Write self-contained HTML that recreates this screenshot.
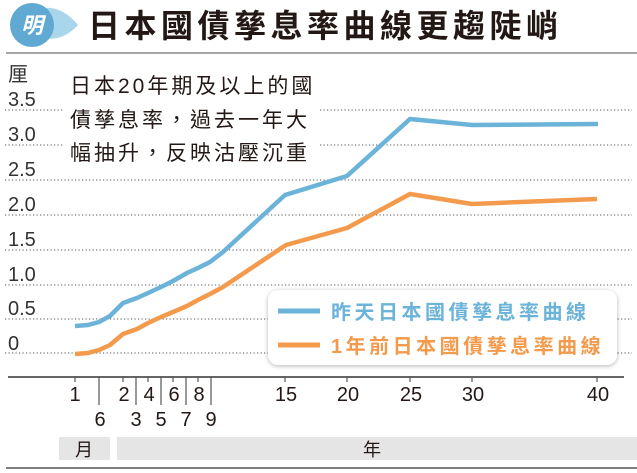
<!DOCTYPE html>
<html><head><meta charset="utf-8"><style>
body{margin:0;background:#fff}
svg{display:block;font-family:"Liberation Sans","Noto Sans CJK TC",sans-serif}
</style></head><body>
<svg width="637" height="473" viewBox="0 0 637 473">
<defs><filter id="sh" x="-10%" y="-20%" width="120%" height="150%"><feDropShadow dx="0" dy="1" stdDeviation="2" flood-color="#000" flood-opacity="0.3"/></filter></defs>
<path d="M44 8 Q62 6 78 25 Q62 42 44 38 Z" fill="#a9d6ea"/>
<circle cx="32" cy="25" r="22" fill="#5fa9d2"/>
<text x="32" y="33" font-size="22" font-weight="bold" fill="#fff" text-anchor="middle" font-style="italic">明</text>
<text x="88" y="37" font-size="32" font-weight="bold" fill="#231815" letter-spacing="4.5">日本國債孳息率曲線更趨陡峭</text>
<line x1="6" y1="53" x2="637" y2="53" stroke="#888" stroke-width="1.5"/>
<g stroke="#555" stroke-width="1" stroke-dasharray="1.2,2.3">
<line x1="5" y1="110" x2="632" y2="110"/><line x1="5" y1="145" x2="632" y2="145"/>
<line x1="5" y1="180" x2="632" y2="180"/><line x1="5" y1="215" x2="632" y2="215"/>
<line x1="5" y1="250" x2="632" y2="250"/><line x1="5" y1="285" x2="632" y2="285"/>
<line x1="5" y1="319" x2="632" y2="319"/><line x1="5" y1="353" x2="632" y2="353"/>
</g>
<rect x="64" y="64" width="254" height="104" fill="#fff"/>
<g font-size="20" fill="#333">
<text x="8" y="81">厘</text>
<text x="8" y="106">3.5</text><text x="8" y="141">3.0</text><text x="8" y="176">2.5</text>
<text x="8" y="211">2.0</text><text x="8" y="246">1.5</text><text x="8" y="281">1.0</text>
<text x="8" y="315">0.5</text><text x="8" y="350">0</text>
</g>
<g font-size="21" fill="#231815" letter-spacing="3">
<text x="70" y="93">日本20年期及以上的國</text>
<text x="70" y="127">債孳息率，過去一年大</text>
<text x="70" y="160">幅抽升，反映沽壓沉重</text>
</g>
<polyline fill="none" stroke="#6bb3d8" stroke-width="4.5" stroke-linejoin="round" points="75,326 88,325 99,322 110,316 123,303 137,298 148,293 161,287 173,281 187,273 198,268 210,262 223,252 285,195 347,176 410,119 472,125 598,124"/>
<polyline fill="none" stroke="#f39a4d" stroke-width="4.5" stroke-linejoin="round" points="75,354 88,353 99,350 110,345 123,334 137,329 148,323 161,317 173,312 187,306 198,300 210,294 223,287 286,245 347,228 410,194 472,204 597,199"/>
<rect x="268" y="290" width="349" height="75" rx="10" fill="#fff" filter="url(#sh)"/>
<line x1="278" y1="311" x2="320" y2="311" stroke="#6bb3d8" stroke-width="5"/>
<line x1="278" y1="345" x2="320" y2="345" stroke="#f39a4d" stroke-width="5"/>
<text x="331" y="319" font-size="20" font-weight="bold" fill="#6bb3d8" letter-spacing="3.5">昨天日本國債孳息率曲線</text>
<text x="331" y="353" font-size="20" font-weight="bold" fill="#f39a4d" letter-spacing="3.5">1年前日本國債孳息率曲線</text>
<line x1="8" y1="377" x2="624" y2="377" stroke="#333" stroke-width="1.5"/>
<g stroke="#555" stroke-width="1.2">
<line x1="75" y1="377" x2="75" y2="382"/><line x1="123" y1="377" x2="123" y2="382"/>
<line x1="148" y1="377" x2="148" y2="382"/><line x1="173" y1="377" x2="173" y2="382"/>
<line x1="198" y1="377" x2="198" y2="382"/><line x1="285" y1="377" x2="285" y2="382"/>
<line x1="347" y1="377" x2="347" y2="382"/><line x1="410" y1="377" x2="410" y2="382"/>
<line x1="472" y1="377" x2="472" y2="382"/><line x1="597" y1="377" x2="597" y2="382"/>
<line x1="99" y1="377" x2="99" y2="405"/><line x1="136" y1="377" x2="136" y2="405"/>
<line x1="161" y1="377" x2="161" y2="405"/><line x1="186" y1="377" x2="186" y2="405"/>
<line x1="211" y1="377" x2="211" y2="405"/>
</g>
<g font-size="20" fill="#231815" text-anchor="middle">
<text x="75" y="401">1</text><text x="124" y="401">2</text><text x="149" y="401">4</text>
<text x="174" y="401">6</text><text x="199" y="401">8</text><text x="286" y="401">15</text>
<text x="348" y="401">20</text><text x="411" y="401">25</text><text x="473" y="401">30</text>
<text x="598" y="401">40</text>
<text x="100" y="426">6</text><text x="136" y="426">3</text><text x="161" y="426">5</text>
<text x="186" y="426">7</text><text x="211" y="426">9</text>
</g>
<rect x="59" y="437" width="51" height="23" fill="#e5e5e6"/>
<rect x="117" y="437" width="520" height="23" fill="#e5e5e6"/>
<text x="84" y="456" font-size="18" fill="#231815" text-anchor="middle">月</text>
<text x="372" y="456" font-size="18" fill="#231815" text-anchor="middle">年</text>
<line x1="6" y1="468" x2="637" y2="468" stroke="#555" stroke-width="1.5"/>
</svg>
</body></html>
